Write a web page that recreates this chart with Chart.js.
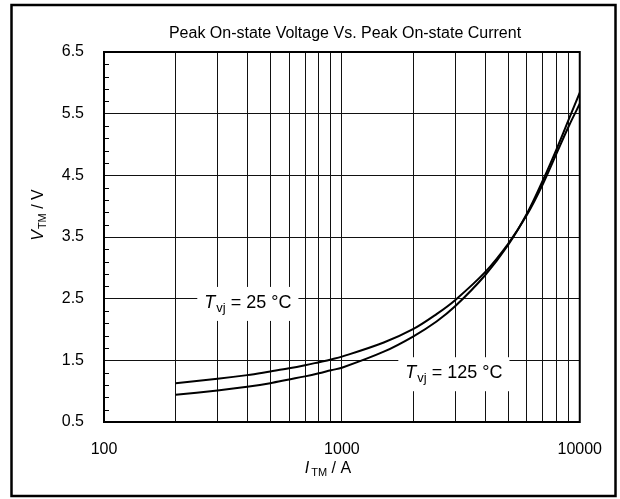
<!DOCTYPE html>
<html>
<head>
<meta charset="utf-8">
<title>Peak On-state Voltage Vs. Peak On-state Current</title>
<script src="https://cdn.jsdelivr.net/npm/chart.js@4.4.1/dist/chart.umd.min.js"></script>
<style>
    html, body { margin: 0; padding: 0; background: #fff; }
    #wrap { position: relative; width: 620px; height: 499px; }
</style>
</head>
<body>
<div id="wrap"><canvas id="vtm-chart" width="620" height="499"></canvas></div>
<script>
// On-state characteristic V_TM = f(I_TM)
const currentA = [200, 300, 400, 500, 600, 700, 800, 900, 1000, 1500, 2000, 2500, 3000, 4000, 5000, 6000, 7000, 8000, 9000, 10000];
const vtm25 = [1.13, 1.20, 1.26, 1.32, 1.37, 1.42, 1.47, 1.515, 1.56, 1.79, 2.01, 2.25, 2.48, 2.93, 3.39, 3.86, 4.36, 4.86, 5.30, 5.66];
const vtm125 = [0.94, 1.01, 1.07, 1.13, 1.19, 1.24, 1.29, 1.34, 1.38, 1.64, 1.89, 2.13, 2.38, 2.88, 3.37, 3.88, 4.42, 4.93, 5.41, 5.84];

// Axis ticks
const xGridValues = [100, 200, 300, 400, 500, 600, 700, 800, 900, 1000, 2000, 3000, 4000, 5000, 6000, 7000, 8000, 9000, 10000];
const xTickLabels = [100, 1000, 10000];
const yTickLabels = [0.5, 1.5, 2.5, 3.5, 4.5, 5.5, 6.5];
const yMinorStep = 0.2;

// Curve labels, anchored in data units (left edge of text, baseline)
const curveLabels = [
    { temp: '25', x: 264, y: 2.35 },
    { temp: '125', x: 1848, y: 1.21 }
];

const FONT = '"Liberation Sans", Arial, sans-serif';

// y ticks every 0.2 V, labelled every 1 V
const yTickValues = [];
for (let v = yTickLabels[0]; v <= yTickLabels[yTickLabels.length - 1] + 1e-6; v += yMinorStep) {
    yTickValues.push(Math.round(v * 10) / 10);
}

function isYMajor(value) {
    return yTickLabels.some(v => Math.abs(v - value) < 1e-6);
}

// Draw a run of text pieces (normal / italic / subscript) one after another
function drawRich(ctx, parts, x, y, align) {
    let total = 0;
    parts.forEach(p => {
        ctx.font = p.font;
        p.w = ctx.measureText(p.text).width;
        total += p.w + (p.gap || 0);
    });
    let cx = align === 'center' ? x - total / 2 : x;
    parts.forEach(p => {
        ctx.font = p.font;
        ctx.fillText(p.text, cx, y + (p.dy || 0));
        cx += p.w + (p.gap || 0);
    });
    return total;
}

const extrasPlugin = {
    id: 'extras',
    beforeDatasetsDraw(chart) {
        const { ctx, chartArea: a, scales } = chart;
        ctx.save();
        // minor ticks on the voltage axis
        ctx.strokeStyle = '#000';
        ctx.lineWidth = 1;
        yTickValues.filter(v => !isYMajor(v)).forEach(v => {
            const py = Math.round(scales.y.getPixelForValue(v)) + 0.5;
            ctx.beginPath();
            ctx.moveTo(a.left, py);
            ctx.lineTo(a.left + 5, py);
            ctx.stroke();
        });
        // plot frame
        ctx.lineWidth = 2;
        ctx.strokeRect(a.left, a.top, a.right - a.left, a.bottom - a.top);
        ctx.restore();
    },
    afterDatasetsDraw(chart) {
        const { ctx, scales } = chart;
        ctx.save();
        ctx.textBaseline = 'alphabetic';
        curveLabels.forEach(lbl => {
            const px = scales.x.getPixelForValue(lbl.x);
            const py = scales.y.getPixelForValue(lbl.y);
            const parts = [
                { text: 'T', font: 'italic 18px ' + FONT, gap: 1 },
                { text: 'vj', font: '13px ' + FONT, dy: 4 },
                { text: ' = ' + lbl.temp + ' \u00B0C', font: '18px ' + FONT }
            ];
            // white box behind the label
            ctx.fillStyle = '#fff';
            let w = 0;
            parts.forEach(p => { ctx.font = p.font; w += ctx.measureText(p.text).width + (p.gap || 0); });
            ctx.fillRect(px - 7, py - 21, w + 14, 34);
            ctx.fillStyle = '#000';
            drawRich(ctx, parts, px, py, 'left');
        });
        ctx.restore();
    },
    afterDraw(chart) {
        const { ctx } = chart;
        ctx.save();
        ctx.fillStyle = '#000';
        ctx.textBaseline = 'alphabetic';

        // title
        ctx.font = '16px ' + FONT;
        ctx.textAlign = 'center';
        ctx.fillText('Peak On-state Voltage Vs. Peak On-state Current', 345, 38);
        ctx.textAlign = 'left';

        // x axis title
        drawRich(ctx, [
            { text: 'I', font: 'italic 16px ' + FONT, gap: 2 },
            { text: 'TM', font: '11px ' + FONT, dy: 3 },
            { text: ' / A', font: '16px ' + FONT }
        ], 328, 473, 'center');

        // y axis title, rotated
        ctx.translate(43, 215);
        ctx.rotate(-Math.PI / 2);
        drawRich(ctx, [
            { text: 'V', font: 'italic 16px ' + FONT, gap: 1 },
            { text: 'TM', font: '11px ' + FONT, dy: 3 },
            { text: ' / V', font: '16px ' + FONT }
        ], 0, 0, 'center');
        ctx.setTransform(1, 0, 0, 1, 0, 0);

        // outer frame
        ctx.strokeStyle = '#000';
        ctx.lineWidth = 2.5;
        ctx.strokeRect(11.5, 5, 604, 491);
        ctx.restore();
    }
};

const lineStyle = {
    borderColor: '#000',
    borderWidth: 2,
    pointRadius: 0,
    fill: false,
    tension: 0.35
};

new Chart(document.getElementById('vtm-chart'), {
    type: 'line',
    data: {
        datasets: [
            Object.assign({ label: 'Tvj = 25 °C', data: currentA.map((c, i) => ({ x: c, y: vtm25[i] })) }, lineStyle),
            Object.assign({ label: 'Tvj = 125 °C', data: currentA.map((c, i) => ({ x: c, y: vtm125[i] })) }, lineStyle)
        ]
    },
    options: {
        responsive: false,
        devicePixelRatio: 1,
        animation: false,
        layout: { padding: { top: 52, right: 36, bottom: 0, left: 0 } },
        plugins: {
            legend: { display: false },
            tooltip: { enabled: false }
        },
        scales: {
            x: {
                type: 'logarithmic',
                min: 100,
                max: 10000,
                afterBuildTicks: scale => { scale.ticks = xGridValues.map(v => ({ value: v })); },
                afterFit: scale => { scale.height = 77; },
                grid: { color: '#111', lineWidth: 1, drawTicks: false },
                border: { display: false },
                ticks: {
                    autoSkip: false,
                    maxRotation: 0,
                    padding: 18,
                    color: '#000',
                    font: { family: FONT, size: 16 },
                    callback: value => xTickLabels.includes(value) ? String(value) : ''
                }
            },
            y: {
                type: 'linear',
                min: 0.5,
                max: 6.5,
                afterBuildTicks: scale => { scale.ticks = yTickValues.map(v => ({ value: v })); },
                afterFit: scale => { scale.width = 104; },
                grid: {
                    color: c => (c.tick && isYMajor(c.tick.value)) ? '#111' : 'rgba(0,0,0,0)',
                    lineWidth: 1,
                    drawTicks: false
                },
                border: { display: false },
                ticks: {
                    autoSkip: false,
                    padding: 20,
                    color: '#000',
                    font: { family: FONT, size: 16 },
                    callback: value => isYMajor(value) ? value.toFixed(1) : ''
                }
            }
        }
    },
    plugins: [extrasPlugin]
});
</script>
</body>
</html>
